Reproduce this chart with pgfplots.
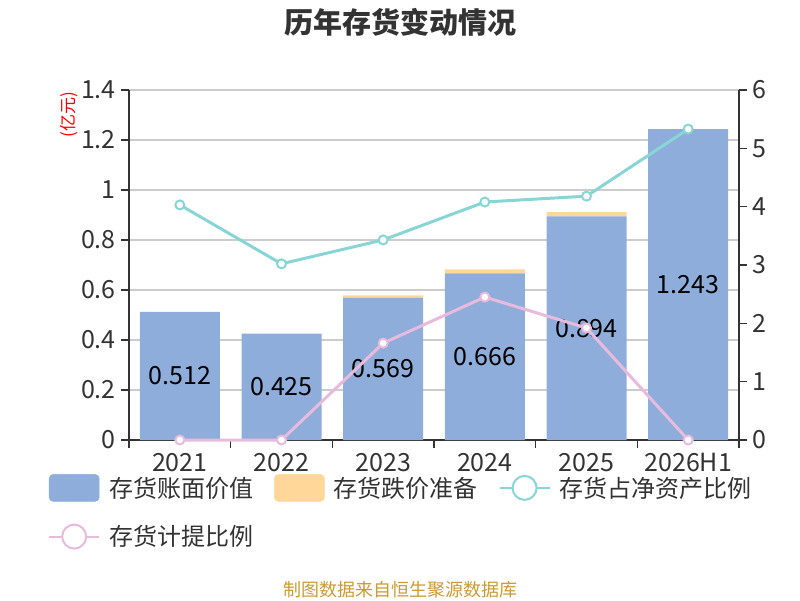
\documentclass[border=0pt]{standalone}
\usepackage{fontspec}
\setmainfont{Noto Sans CJK SC}
\usepackage{pgfplots}
\pgfplotsset{compat=1.18}
\definecolor{cbook}{HTML}{8EADDB}
\definecolor{cres}{HTML}{FFD899}
\definecolor{cteal}{HTML}{88D5D6}
\definecolor{cpink}{HTML}{E8BBDC}
\definecolor{ctext}{HTML}{333333}
\definecolor{cgrid}{HTML}{CCCCCC}
\definecolor{csrc}{HTML}{CC9A2E}
\pgfplotsset{base/.style={at={(129pt,160pt)}, anchor=south west, scale only axis,
  width=610pt, height=350pt, xmin=-0.5, xmax=5.5,
  /pgf/number format/assume math mode=true,
  ticklabel style={font=\fontsize{25}{28}\selectfont, text=ctext},
  tick align=outside, major tick length=8pt,
  tick style={ctext, line width=1.5pt},
  axis line style={ctext, line width=2pt}}}
\begin{document}
\begin{tikzpicture}
\path[use as bounding box] (0pt,0pt) rectangle (800pt,600pt);
\node[font=\fontsize{29}{34}\selectfont\bfseries, text=ctext] at (400pt,578pt) {历年存货变动情况};
\node[font=\fontsize{18}{20}\selectfont, text=csrc] at (400pt,10pt) {制图数据来自恒生聚源数据库};
% bars
\begin{axis}[base, ymin=0, ymax=1.4, ytick={0,0.2,0.4,0.6,0.8,1,1.2,1.4},
  ybar stacked, bar width=80pt,
  axis x line*=bottom, axis y line*=left,
  ymajorgrids, grid style={cgrid, line width=1.3pt},
  xtick={-0.5,0.5,1.5,2.5,3.5,4.5,5.5}, x tick label as interval,
  xticklabels={2021,2022,2023,2024,2025,2026H1},
  yticklabel style={inner sep=1pt, xshift=-4pt},
  xticklabel style={inner sep=1pt, yshift=-4pt},
  ylabel={(亿元)},
  ylabel style={at={(axis description cs:-0.098,0.929)}, anchor=center, text=red, font=\fontsize{17}{19}\selectfont}]
\addplot[fill=cbook, draw=none] coordinates {(0,0.512) (1,0.425) (2,0.569) (3,0.666) (4,0.894) (5,1.243)};
\addplot[fill=cres, draw=none] coordinates {(0,0) (1,0) (2,0.0097) (3,0.0167) (4,0.0175) (5,0)};
\end{axis}
% value labels
\begin{axis}[base, ymin=0, ymax=1.4, hide axis,
  nodes near coords, point meta=explicit symbolic,
  nodes near coords style={anchor=center, font=\fontsize{25}{28}\selectfont, text=black, opacity=1, text opacity=1}]
\addplot[only marks, mark=*, mark size=0pt, mark options={draw=none, fill=none}] coordinates {(0,0.256) [0.512] (1,0.2125) [0.425] (2,0.2845) [0.569] (3,0.333) [0.666] (4,0.447) [0.894] (5,0.6215) [1.243]};
\end{axis}
% lines
\begin{axis}[base, ymin=0, ymax=6, ytick={0,1,2,3,4,5,6},
  axis y line*=right, axis x line=none, xtick=\empty, clip=false,
  yticklabel style={inner sep=1pt, xshift=4pt},
  legend style={at={(axis description cs:-0.1328,-0.0971)}, anchor=north west,
    draw=none, fill=none, inner sep=0pt, legend columns=3,
    font=\fontsize{24}{28}\selectfont, text=ctext,
    nodes={inner sep=1pt}, row sep=22pt,
    /tikz/every odd column/.append style={column sep=8pt},
    /tikz/every even column/.append style={column sep=20pt}},
  legend cell align=left]
\addlegendimage{legend image code/.code={\fill[cbook, rounded corners=4pt] (0pt,-13.5pt) rectangle (50pt,13.5pt);}}
\addlegendimage{legend image code/.code={\fill[cres, rounded corners=4pt] (0pt,-13.5pt) rectangle (50pt,13.5pt);}}
\addplot[cteal, line width=3pt, mark=*, mark size=4.5pt, mark options={fill=white, draw=cteal, line width=2pt},
  legend image code/.code={\draw[cteal, line width=2pt] (0pt,0pt)--(50pt,0pt); \draw[cteal, line width=2pt, fill=white] (25pt,0pt) circle (12pt);}]
  coordinates {(0,4.03) (1,3.02) (2,3.43) (3,4.08) (4,4.18) (5,5.33)};
\addplot[cpink, line width=3pt, mark=*, mark size=4.5pt, mark options={fill=white, draw=cpink, line width=2pt},
  legend image code/.code={\draw[cpink, line width=2pt] (0pt,0pt)--(50pt,0pt); \draw[cpink, line width=2pt, fill=white] (25pt,0pt) circle (12pt);}]
  coordinates {(0,0) (1,0) (2,1.66) (3,2.45) (4,1.92) (5,0)};
\legend{存货账面价值,存货跌价准备,存货占净资产比例,存货计提比例}
\end{axis}
\end{tikzpicture}
\end{document}
